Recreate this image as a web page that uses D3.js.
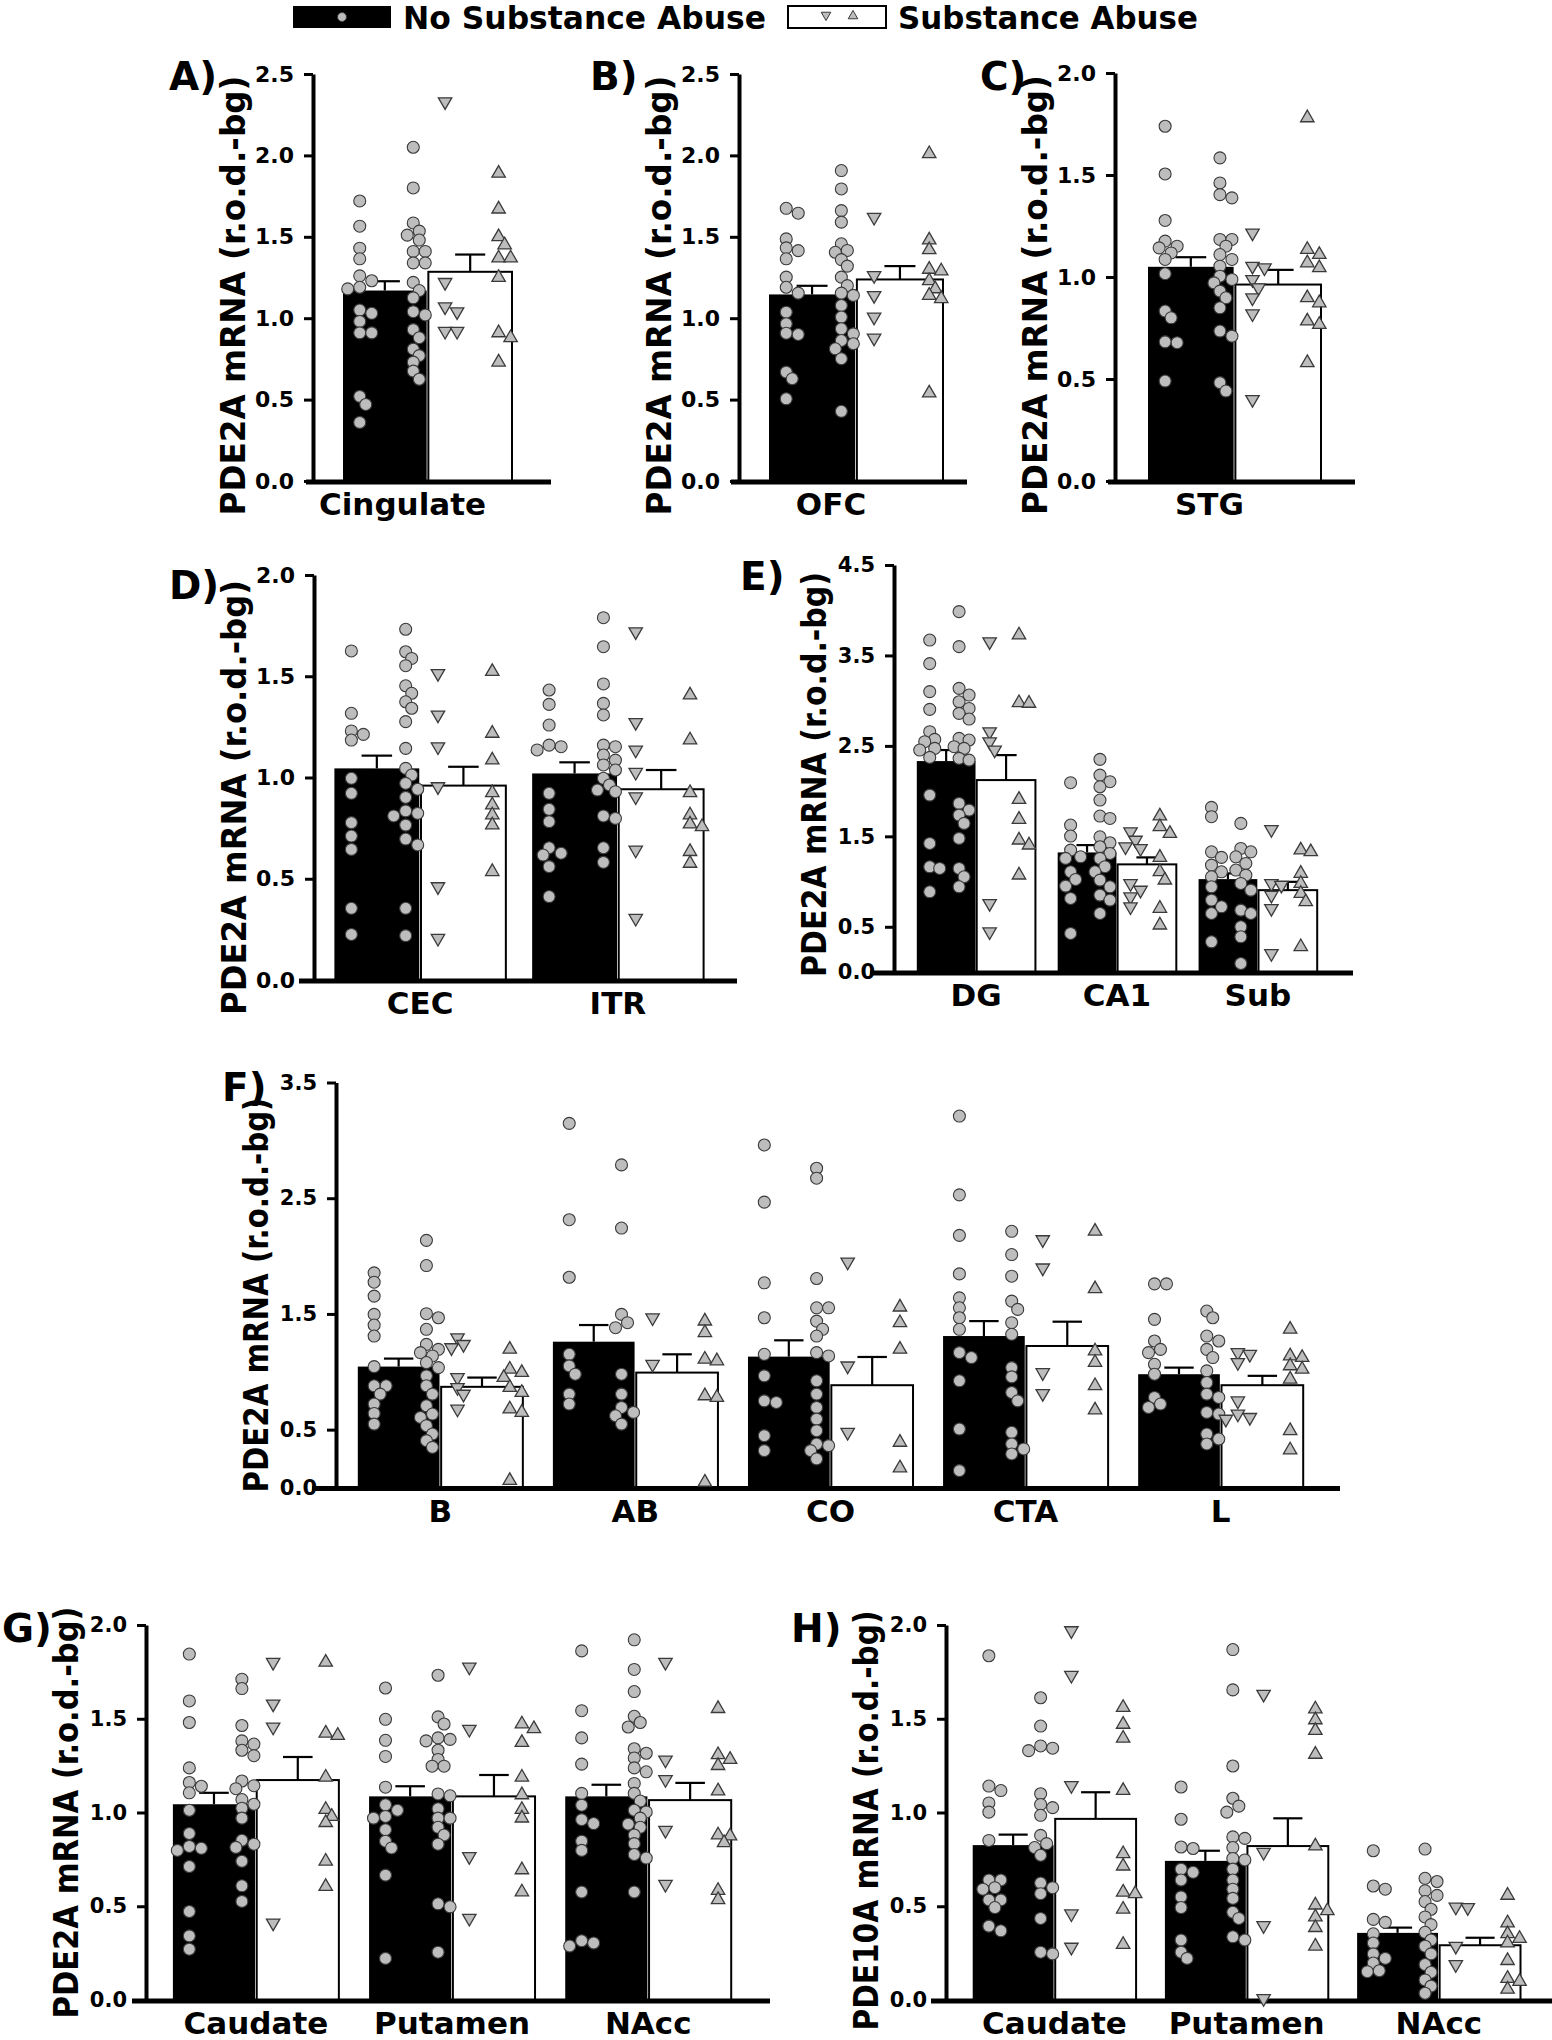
<!DOCTYPE html>
<html>
<head>
<meta charset="utf-8">
<script src="https://cdn.jsdelivr.net/npm/d3@7"></script>
<style>
  body { margin: 0; background: #fff; }
  svg text { font-family: "DejaVu Sans", sans-serif; font-weight: bold; fill: #000; }
</style>
</head>
<body>
<svg id="fig" width="1552" height="2040"></svg>
<script>
// ---- values (r.o.d.-bg) ----
// circX1/circX2 = the two circle columns in the black bar, downX/upX = triangles in the white bar

var catsA = ["Cingulate"];
var meanNoA = [1.17], semNoA = [0.057], meanSaA = [1.285], semSaA = [0.106];
var circA1 = [[1.72,1.565,1.43,1.365,1.26,1.23,1.19,1.18,1.05,1.03,0.98,0.91,0.91,0.52,0.47,0.36]];
var circA2 = [[2.05,1.80,1.585,1.535,1.51,1.48,1.41,1.41,1.34,1.34,1.22,1.17,1.125,1.04,1.02,0.93,0.88,0.81,0.77,0.73,0.675,0.625]];
var downA = [[2.33,1.22,1.07,1.04,0.92,0.92]];
var upA = [[1.89,1.67,1.50,1.45,1.37,1.37,1.25,0.91,0.88,0.73]];

var catsB = ["OFC"];
var meanNoB = [1.146], semNoB = [0.053], meanSaB = [1.238], semSaB = [0.082];
var circB1 = [[1.675,1.645,1.487,1.432,1.415,1.365,1.252,1.19,1.154,1.037,0.966,0.908,0.90,0.669,0.628,0.505]];
var circB2 = [[1.907,1.794,1.661,1.59,1.457,1.416,1.405,1.36,1.32,1.252,1.20,1.154,1.14,1.078,1.007,0.935,0.904,0.863,0.843,0.812,0.751,0.428]];
var downB = [[1.62,1.262,1.14,1.007,0.878]];
var upB = [[2.01,1.48,1.42,1.30,1.29,1.23,1.18,1.14,1.12,0.54]];

var catsC = ["STG"];
var meanNoC = [1.05], semNoC = [0.047], meanSaC = [0.963], semSaC = [0.072];
var circC1 = [[1.739,1.505,1.277,1.176,1.151,1.143,1.118,1.086,1.016,0.833,0.80,0.678,0.682,0.49]];
var circC2 = [[1.584,1.461,1.404,1.388,1.184,1.184,1.151,1.11,1.086,1.053,1.004,0.988,0.971,0.931,0.898,0.849,0.735,0.71,0.482,0.441]];
var downC = [[1.216,1.053,1.045,0.988,0.947,0.898,0.82,0.40]];
var upC = [[1.78,1.135,1.11,1.069,1.045,0.898,0.873,0.784,0.767,0.58]];

var catsD = ["CEC", "ITR"];
var meanNoD = [1.045, 1.02], semNoD = [0.063, 0.055], meanSaD = [0.96, 0.942], semSaD = [0.093, 0.095];
var circD1 = [[1.625,1.317,1.23,1.213,1.185,0.996,0.922,0.777,0.711,0.645,0.354,0.225],
              [1.432,1.361,1.259,1.16,1.152,1.136,0.922,0.843,0.782,0.653,0.626,0.617,0.56,0.412]];
var circD2 = [[1.732,1.621,1.588,1.552,1.453,1.416,1.374,1.342,1.276,1.144,1.045,1.012,0.971,0.942,0.902,0.835,0.823,0.81,0.765,0.696,0.667,0.354,0.219],
              [1.789,1.646,1.462,1.366,1.309,1.16,1.152,1.111,1.086,1.062,1.037,0.996,0.963,0.938,0.93,0.81,0.798,0.653,0.581]];
var downD = [[1.514,1.309,1.152,0.955,0.461,0.206], [1.72,1.272,1.136,1.026,0.905,0.642,0.305]];
var upD = [[1.523,1.218,1.086,0.925,0.864,0.815,0.765,0.535], [1.407,1.185,0.925,0.815,0.77,0.757,0.634,0.576]];

var catsE = ["DG", "CA1", "Sub"];
var meanNoE = [2.332, 1.322, 1.027], semNoE = [0.122, 0.081, 0.063];
var meanSaE = [2.122, 1.19, 0.905], semSaE = [0.276, 0.077, 0.092];
var circE1 = [[3.67,3.41,3.10,2.904,2.657,2.572,2.546,2.472,2.454,2.373,1.956,1.421,1.163,1.145,0.887],
              [2.093,1.625,1.503,1.348,1.274,1.256,1.108,1.023,0.95,0.813,0.426],
              [1.82,1.717,1.329,1.267,1.182,1.108,1.053,0.942,0.795,0.721,0.647,0.334]];
var circE2 = [[3.984,3.597,3.136,3.062,2.988,2.914,2.86,2.797,2.583,2.565,2.491,2.472,2.362,2.343,1.864,1.79,1.735,1.643,1.477,1.145,1.053,0.942],
              [2.351,2.177,2.104,2.048,1.901,1.724,1.698,1.495,1.429,1.385,1.311,1.256,1.164,1.108,1.016,0.942,0.85,0.795,0.647],
              [1.643,1.366,1.329,1.274,1.2,1.127,1.071,0.979,0.905,0.684,0.647,0.5,0.389,0.094]];
var downE = [[3.652,2.657,2.546,2.454,0.758,0.445],
             [1.551,1.458,1.385,1.366,0.979,0.905,0.832,0.721],
             [1.576,0.979,0.96,0.85,0.703,0.205]];
var upE = [[3.726,2.977,2.97,1.908,1.687,1.458,1.403,1.071],
           [1.724,1.606,1.532,1.267,1.108,1.016,0.703,0.518],
           [1.348,1.329,1.09,0.979,0.868,0.776,0.279]];

var catsF = ["B", "AB", "CO", "CTA", "L"];
var meanNoF = [1.045, 1.26, 1.131, 1.309, 0.979], semNoF = [0.069, 0.144, 0.141, 0.129, 0.057];
var meanSaF = [0.87, 0.993, 0.884, 1.223, 0.884], semSaF = [0.08, 0.158, 0.244, 0.21, 0.081];
var circF1 = [[1.855,1.774,1.654,1.496,1.404,1.309,1.045,0.879,0.879,0.807,0.721,0.64,0.548],
              [3.147,2.314,1.817,1.151,1.051,0.979,0.807,0.721],
              [2.96,2.466,1.769,1.467,1.151,0.965,0.749,0.735,0.448,0.319],
              [3.21,2.529,2.179,1.846,1.639,1.553,1.467,1.367,1.166,1.123,0.922,0.505,0.146],
              [1.76,1.76,1.453,1.266,1.194,1.166,1.065,0.979,0.778,0.721,0.692]];
var circF2 = [[2.136,1.918,1.502,1.467,1.367,1.237,1.194,1.166,1.137,1.08,1.036,0.965,0.879,0.807,0.706,0.635,0.606,0.534,0.462,0.405,0.347],
              [2.788,2.242,1.496,1.424,1.381,0.979,0.807,0.692,0.649,0.62,0.548],
              [2.759,2.673,1.806,1.553,1.553,1.438,1.367,1.309,1.166,1.137,0.922,0.807,0.692,0.591,0.491,0.376,0.362,0.319,0.247],
              [2.214,2.013,1.826,1.611,1.539,1.424,1.324,1.036,0.956,0.821,0.749,0.477,0.376,0.333,0.29],
              [1.525,1.467,1.309,1.266,1.194,1.123,1.008,0.907,0.807,0.778,0.649,0.635,0.462,0.419,0.376]];
var downF = [[1.295,1.237,1.209,0.95,0.864,0.807,0.678], [1.467,1.065], [1.949,1.051,0.477],
             [2.142,1.898,0.993,0.813], [1.166,1.151,1.08,0.749,0.635,0.606,0.591]];
var upF = [[1.194,1.022,0.993,0.95,0.864,0.821,0.678,0.649,0.06],
           [1.438,1.338,1.108,1.094,0.792,0.778,0.046],
           [1.559,1.424,1.194,0.39,0.169],
           [2.214,1.717,1.18,1.08,0.879,0.669],
           [1.367,1.137,1.123,1.051,1.022,0.936,0.491,0.324]];

var catsG = ["Caudate", "Putamen", "NAcc"];
var meanNoG = [1.044, 1.086, 1.086], semNoG = [0.061, 0.054, 0.062];
var meanSaG = [1.173, 1.086, 1.066], semSaG = [0.123, 0.114, 0.092];
var circG1 = [[1.845,1.595,1.48,1.238,1.16,1.14,1.105,1.012,0.888,0.819,0.809,0.798,0.712,0.472,0.342,0.271],
              [1.664,1.497,1.385,1.299,1.135,1.041,1.012,0.979,0.97,0.908,0.847,0.811,0.666,0.222],
              [1.862,1.543,1.398,1.258,1.102,1.039,0.962,0.941,0.847,0.798,0.576,0.316,0.304,0.288]];
var circG2 = [[1.711,1.661,1.464,1.382,1.365,1.332,1.303,1.168,1.143,1.127,1.069,1.044,1.023,0.97,0.852,0.831,0.814,0.74,0.609,0.526],
              [1.732,1.51,1.472,1.39,1.398,1.382,1.332,1.283,1.247,1.247,1.099,1.089,1.02,0.97,0.97,0.921,0.88,0.831,0.513,0.497,0.255],
              [1.921,1.763,1.645,1.513,1.48,1.456,1.34,1.316,1.291,1.238,1.217,1.155,1.102,1.061,1.012,1.003,0.97,0.938,0.921,0.88,0.834,0.776,0.757,0.576]];
var downG = [[1.801,1.579,1.456,0.411], [1.776,1.444,0.765,0.436], [1.801,1.28,1.176,0.905,0.617]];
var upG = [[1.801,1.423,1.411,1.188,1.016,0.979,0.946,0.74,0.605],
           [1.472,1.447,1.373,1.188,1.094,1.016,0.97,0.694,0.576],
           [1.554,1.308,1.283,1.25,1.115,0.88,0.875,0.839,0.584,0.535]];

var catsH = ["Caudate", "Putamen", "NAcc"];
var meanNoH = [0.826, 0.742, 0.358], semNoH = [0.056, 0.054, 0.028];
var meanSaH = [0.966, 0.821, 0.292], semSaH = [0.142, 0.148, 0.04];
var circH1 = [[1.836,1.141,1.117,1.051,1.002,0.851,0.64,0.64,0.599,0.591,0.534,0.534,0.493,0.394,0.369],
              [1.136,0.964,0.816,0.808,0.698,0.681,0.64,0.55,0.493,0.32,0.255,0.222],
              [0.796,0.608,0.591,0.43,0.414,0.353,0.304,0.246,0.222,0.197,0.156,0.151]];
var circH2 = [[1.612,1.461,1.355,1.343,1.33,1.1,1.043,1.026,0.985,0.878,0.834,0.813,0.772,0.624,0.599,0.567,0.435,0.255,0.246],
              [1.869,1.654,1.248,1.076,1.034,1.002,0.87,0.862,0.813,0.755,0.747,0.698,0.64,0.591,0.542,0.468,0.435,0.337,0.32],
              [0.805,0.649,0.632,0.583,0.558,0.525,0.484,0.443,0.402,0.361,0.32,0.287,0.246,0.189,0.148,0.107,0.074,0.036]];
var downH = [[1.97,1.732,1.144,0.46,0.282], [1.631,0.788,0.397,0.008], [0.496,0.493,0.287,0.189]];
var upH = [[1.56,1.47,1.396,1.117,0.78,0.714,0.575,0.567,0.484,0.296],
           [1.552,1.494,1.437,1.31,0.821,0.506,0.476,0.443,0.386,0.287],
           [0.558,0.411,0.353,0.328,0.304,0.21,0.115,0.099,0.057]];

var ticks20 = [0, 0.5, 1, 1.5, 2];
var ticks25 = [0, 0.5, 1, 1.5, 2, 2.5];
var ticks35 = [0, 0.5, 1.5, 2.5, 3.5];
var ticks45 = [0, 0.5, 1.5, 2.5, 3.5, 4.5];

var legendLabels = ["No Substance Abuse", "Substance Abuse"];
var pde2 = "PDE2A mRNA (r.o.d.-bg)", pde10 = "PDE10A mRNA (r.o.d.-bg)";

// ---- panel layout ----
var panels = [
  {letter: "A)", lx: 169, ly: 90, cats: catsA, mNo: meanNoA, sNo: semNoA, mSa: meanSaA, sSa: semSaA,
   c1: circA1, c2: circA2, dn: downA, up: upA, yMax: 2.5, ticks: ticks25, ylab: pde2, labLen: 440, labShift: 18,
   axisX: 313, yTop: 74, yBot: 481, xStart: 306, xEnd: 551, band: [343, 512], pad: 0, tickFs: 22, catShift: -25},
  {letter: "B)", lx: 590, ly: 90, cats: catsB, mNo: meanNoB, sNo: semNoB, mSa: meanSaB, sSa: semSaB,
   c1: circB1, c2: circB2, dn: downB, up: upB, yMax: 2.5, ticks: ticks25, ylab: pde2, labLen: 440, labShift: 18,
   axisX: 739, yTop: 74, yBot: 481, xStart: 731, xEnd: 967, band: [769, 943], pad: 0, tickFs: 22, catShift: -25},
  {letter: "C)", lx: 980, ly: 90, cats: catsC, mNo: meanNoC, sNo: semNoC, mSa: meanSaC, sSa: semSaC,
   c1: circC1, c2: circC2, dn: downC, up: upC, yMax: 2, ticks: ticks20, ylab: pde2, labLen: 440, labShift: 18,
   axisX: 1115, yTop: 73, yBot: 481, xStart: 1108, xEnd: 1355, band: [1148, 1321], pad: 0, tickFs: 22, catShift: -25},
  {letter: "D)", lx: 169, ly: 599, cats: catsD, mNo: meanNoD, sNo: semNoD, mSa: meanSaD, sSa: semSaD,
   c1: circD1, c2: circD2, dn: downD, up: upD, yMax: 2, ticks: ticks20, ylab: pde2, labLen: 435, labShift: 20,
   axisX: 314, yTop: 575, yBot: 980, xStart: 299, xEnd: 737, band: [334.4, 703.6], pad: 0.133, tickFs: 22},
  {letter: "E)", lx: 740, ly: 590, cats: catsE, mNo: meanNoE, sNo: semNoE, mSa: meanSaE, sSa: semSaE,
   c1: circE1, c2: circE2, dn: downE, up: upE, yMax: 4.5, ticks: ticks45, ylab: pde2, labLen: 405, labShift: 6,
   axisX: 894, yTop: 565, yBot: 972, xStart: 870, xEnd: 1353, band: [916.8, 1317.2], pad: 0.158, tickFs: 21,
   cols: [0.22, 0.72], step: 5},
  {letter: "F)", lx: 222, ly: 1101, cats: catsF, mNo: meanNoF, sNo: semNoF, mSa: meanSaF, sSa: semSaF,
   c1: circF1, c2: circF2, dn: downF, up: upF, yMax: 3.5, ticks: ticks35, ylab: pde2, labLen: 395, labShift: 10,
   axisX: 336, yTop: 1082.5, yBot: 1487.5, xStart: 312, xEnd: 1340, band: [357.8, 1303.2], pad: 0.154, tickFs: 21},
  {letter: "G)", lx: 2, ly: 1642, cats: catsG, mNo: meanNoG, sNo: semNoG, mSa: meanSaG, sSa: semSaG,
   c1: circG1, c2: circG2, dn: downG, up: upG, yMax: 2, ticks: ticks20, ylab: pde2, labLen: 412, labShift: 0,
   axisX: 146, yTop: 1625, yBot: 2000, xStart: 132, xEnd: 770, band: [172.9, 731.2], pad: 0.154, tickFs: 21},
  {letter: "H)", lx: 791, ly: 1642, cats: catsH, mNo: meanNoH, sNo: semNoH, mSa: meanSaH, sSa: semSaH,
   c1: circH1, c2: circH2, dn: downH, up: upH, yMax: 2, ticks: ticks20, ylab: pde10, labLen: 420, labShift: 8,
   axisX: 946, yTop: 1625, yBot: 2000, xStart: 931, xEnd: 1552, band: [972.7, 1520.5], pad: 0.15, tickFs: 21}
];

var svg = d3.select("#fig");
var fmt = d3.format(".1f");
var tri = d3.symbol().type(d3.symbolTriangle).size(78)();
var ptFill = "#bdbdbd", ptStroke = "#3a3a3a";

// spread points of one column sideways when they would sit on top of each other
function dodge(vals, y, cx, step) {
  var placed = [];
  var order = vals.map(function(v) { return {v: v, y: y(v)}; })
    .sort(function(a, b) { return a.y - b.y; });
  var offs = [0, 1, -1, 2, -2, 3, -3];
  order.forEach(function(p) {
    for (var k = 0; k < offs.length; k++) {
      var x = cx + offs[k] * step;
      var ok = placed.every(function(q) { return Math.hypot(q.x - x, q.y - p.y) >= 8.5; });
      if (ok || k === offs.length - 1) { p.x = x; break; }
    }
    placed.push(p);
  });
  return placed;
}

function drawPoints(g, vals, cx, y, shape, step) {
  dodge(vals, y, cx, step).forEach(function(p) {
    if (shape === "circle") {
      g.append("circle").attr("cx", p.x).attr("cy", p.y).attr("r", 6)
        .attr("fill", ptFill).attr("stroke", ptStroke).attr("stroke-width", 1.1);
    } else {
      g.append("path").attr("d", tri)
        .attr("transform", "translate(" + p.x + "," + p.y + ")" + (shape === "down" ? " rotate(180)" : ""))
        .attr("fill", ptFill).attr("stroke", ptStroke).attr("stroke-width", 1.3);
    }
  });
}

function drawPanel(p) {
  var y = d3.scaleLinear().domain([0, p.yMax]).range([p.yBot, p.yTop]);
  var x = d3.scaleBand().domain(p.cats).range(p.band).paddingInner(p.pad).paddingOuter(0);
  var sub = d3.scaleBand().domain(["no", "sa"]).range([0, x.bandwidth()]).paddingInner(0.02);
  var cols = p.cols || [0.2, 0.84];
  var step = p.step || 6;
  var g = svg.append("g");
  var gBars = g.append("g"), gErr = g.append("g"), gAxis = g.append("g"), gPts = g.append("g");

  p.cats.forEach(function(c, i) {
    var groups = [
      {k: "no", m: p.mNo[i], s: p.sNo[i], sets: [p.c1[i], p.c2[i]], shapes: ["circle", "circle"]},
      {k: "sa", m: p.mSa[i], s: p.sSa[i], sets: [p.dn[i], p.up[i]], shapes: ["down", "up"]}
    ];
    groups.forEach(function(gr) {
      var x0 = x(c) + sub(gr.k), w = sub.bandwidth();
      var cx = x0 + w / 2;
      gBars.append("rect").attr("x", x0).attr("y", y(gr.m)).attr("width", w).attr("height", y(0) - y(gr.m))
        .attr("fill", gr.k === "no" ? "#000" : "#fff")
        .attr("stroke", "#000").attr("stroke-width", gr.k === "no" ? 0 : 2);
      var cw = w * 0.36;
      gErr.append("line").attr("x1", cx).attr("x2", cx).attr("y1", y(gr.m)).attr("y2", y(gr.m + gr.s))
        .attr("stroke", "#000").attr("stroke-width", 2.2);
      gErr.append("line").attr("x1", cx - cw / 2).attr("x2", cx + cw / 2)
        .attr("y1", y(gr.m + gr.s)).attr("y2", y(gr.m + gr.s))
        .attr("stroke", "#000").attr("stroke-width", 2.2);
      var colX = d3.scaleLinear().domain([0, 1]).range([x0, x0 + w]);
      gr.sets.forEach(function(vals, j) {
        drawPoints(gPts, vals, colX(cols[j]), y, gr.shapes[j], step);
      });
    });
  });

  // y axis
  var ya = gAxis.append("g").attr("transform", "translate(" + p.axisX + ",0)")
    .call(d3.axisLeft(y).tickValues(p.ticks).tickFormat(fmt).tickSize(9).tickSizeOuter(0).tickPadding(10));
  ya.select(".domain").attr("stroke", "#000").attr("stroke-width", 4);
  ya.selectAll(".tick line").attr("stroke", "#000").attr("stroke-width", 3);
  ya.selectAll(".tick text").attr("font-size", p.tickFs).attr("fill", "#000");

  // x axis: thick base line plus region labels
  gAxis.append("line").attr("x1", p.xStart).attr("x2", p.xEnd).attr("y1", p.yBot + 1).attr("y2", p.yBot + 1)
    .attr("stroke", "#000").attr("stroke-width", 5);
  var xa = gAxis.append("g").attr("transform", "translate(" + (p.catShift || 0) + "," + p.yBot + ")")
    .call(d3.axisBottom(x).tickSize(0).tickPadding(12));
  xa.select(".domain").remove();
  xa.selectAll(".tick text").attr("font-size", 31).attr("fill", "#000");

  // y label and panel letter
  g.append("text")
    .attr("transform", "translate(" + (p.axisX - 68) + "," + ((p.yTop + p.yBot) / 2 + p.labShift) + ") rotate(-90)")
    .attr("text-anchor", "middle").attr("font-size", 34)
    .attr("textLength", p.labLen).attr("lengthAdjust", "spacingAndGlyphs").text(p.ylab);
  g.append("text").attr("x", p.lx).attr("y", p.ly).attr("font-size", 39).text(p.letter);
}

panels.forEach(drawPanel);

// legend
var lg = svg.append("g");
lg.append("rect").attr("x", 293).attr("y", 6).attr("width", 98).attr("height", 22).attr("fill", "#000");
lg.append("circle").attr("cx", 342).attr("cy", 17).attr("r", 4.5).attr("fill", ptFill).attr("stroke", ptStroke);
lg.append("text").attr("x", 403).attr("y", 29).attr("font-size", 32)
  .attr("textLength", 363).attr("lengthAdjust", "spacingAndGlyphs").text(legendLabels[0]);
lg.append("rect").attr("x", 788).attr("y", 6).attr("width", 98).attr("height", 22)
  .attr("fill", "#fff").attr("stroke", "#000").attr("stroke-width", 2);
var smallTri = d3.symbol().type(d3.symbolTriangle).size(40)();
lg.append("path").attr("d", smallTri).attr("transform", "translate(826,15) rotate(180)")
  .attr("fill", ptFill).attr("stroke", ptStroke);
lg.append("path").attr("d", smallTri).attr("transform", "translate(853,16)")
  .attr("fill", ptFill).attr("stroke", ptStroke);
lg.append("text").attr("x", 898).attr("y", 29).attr("font-size", 32)
  .attr("textLength", 300).attr("lengthAdjust", "spacingAndGlyphs").text(legendLabels[1]);
</script>
</body>
</html>
